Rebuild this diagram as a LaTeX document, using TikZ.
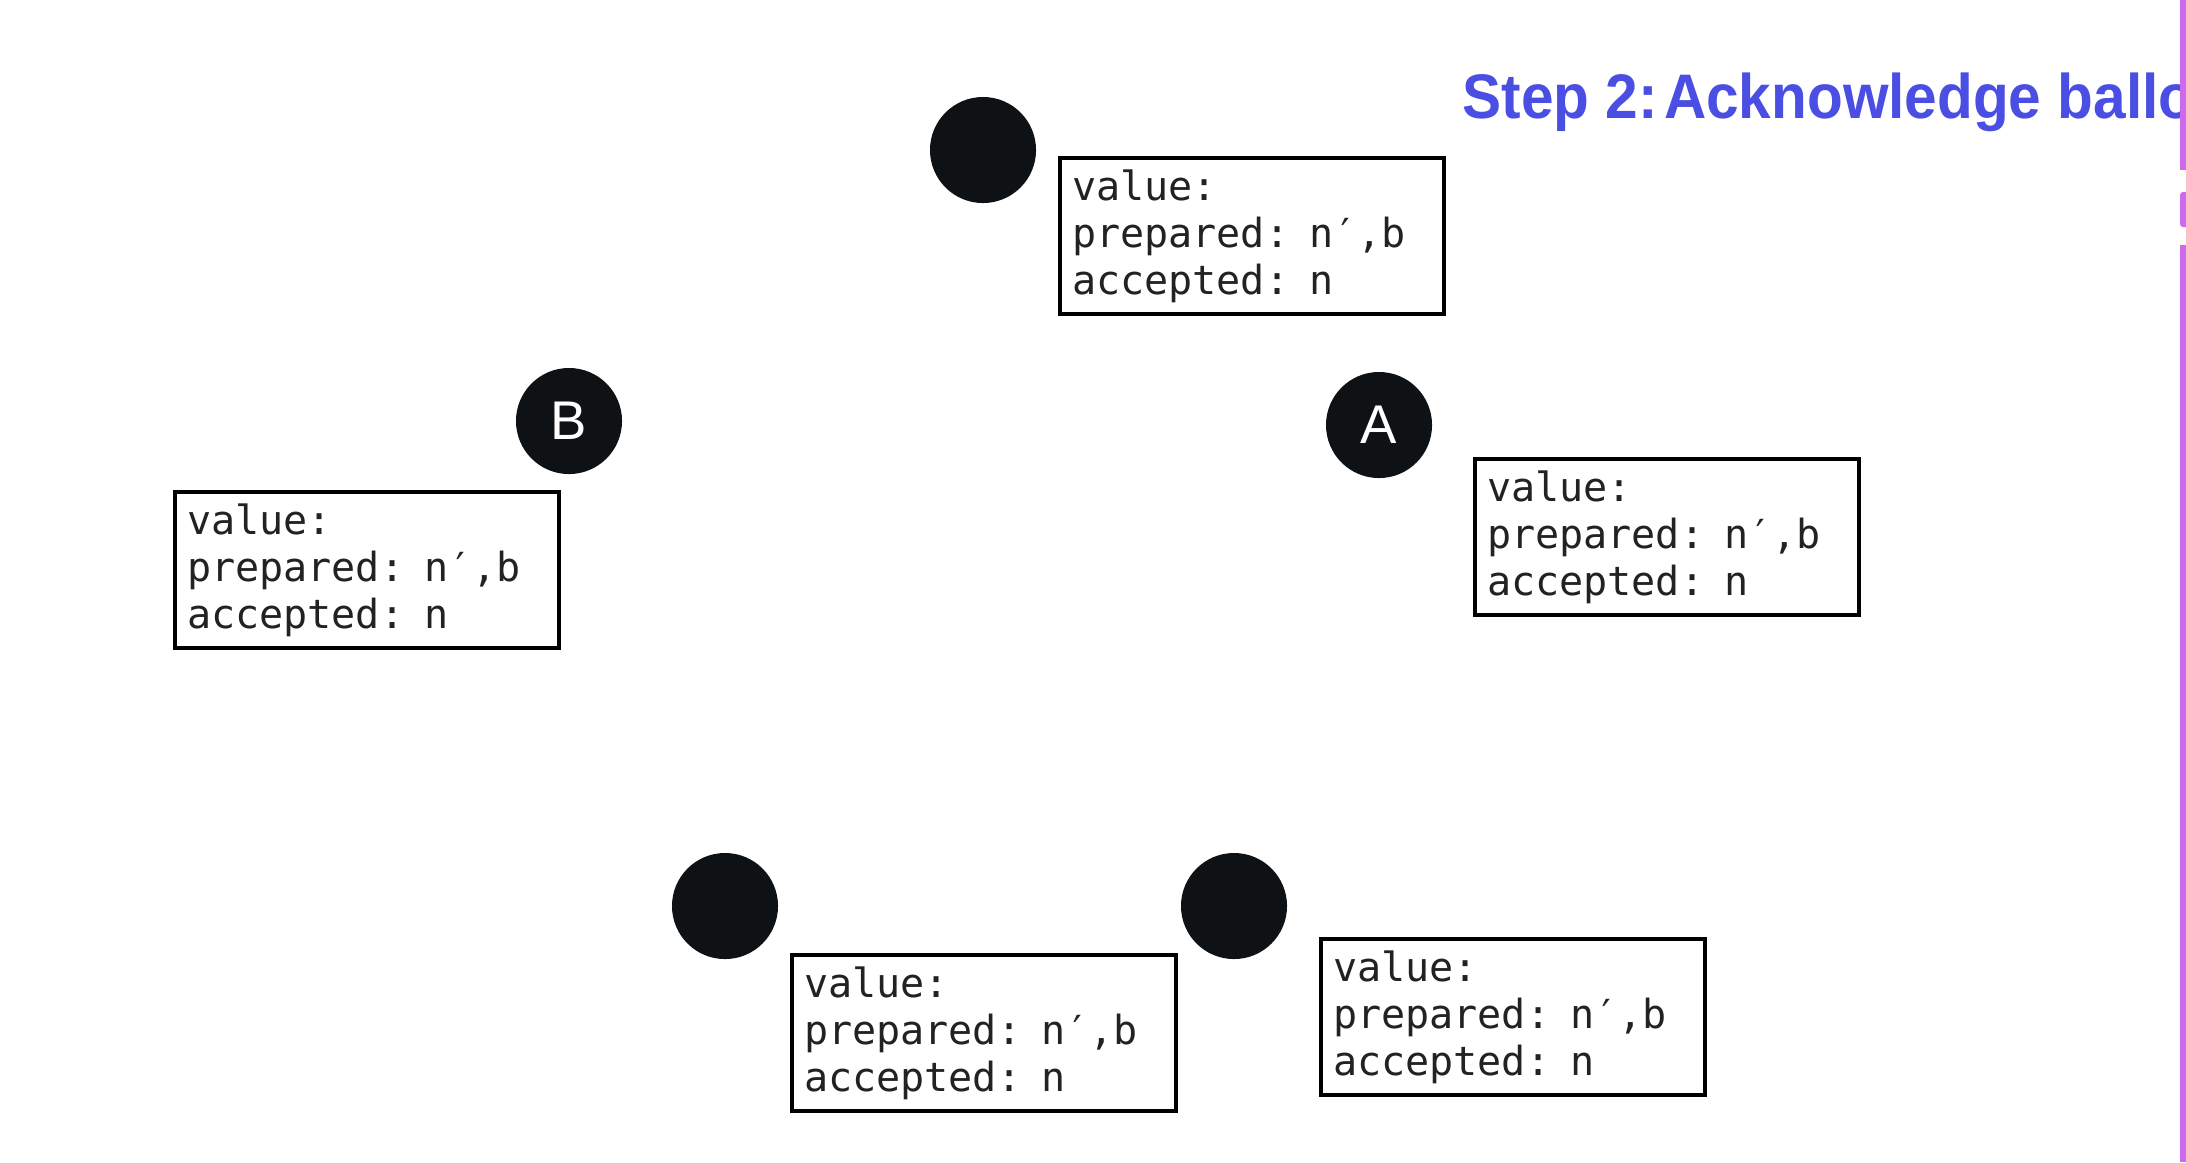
\documentclass[tikz,border=0pt]{standalone}
\usepackage{fontspec}
\newfontfamily\boxfont{DejaVu Sans Mono}
\newfontfamily\labfont{Liberation Sans}
\newfontfamily\titlefont{Liberation Sans}[FakeStretch=0.93]
\definecolor{titleblue}{RGB}{74,78,226}
\definecolor{barpurple}{RGB}{205,105,235}
\definecolor{dotblack}{RGB}{14,18,20}
\definecolor{boxtext}{RGB}{34,34,34}
\tikzset{
  statebox/.style={draw=black, line width=1.15pt, fill=white, anchor=north west,
    minimum width=3.84cm, minimum height=1.56cm, text width=3.6cm,
    inner xsep=0.12cm, inner ysep=0pt, align=left, text=boxtext,
    font=\boxfont\fontsize{11.4}{13.3}\selectfont},
  dot/.style={circle, fill=dotblack, minimum size=1.06cm, inner sep=0pt,
    text=white, font=\labfont\fontsize{15.5}{15.5}\selectfont},
  bar/.style={fill=barpurple, draw=none}
}
\begin{document}
\begin{tikzpicture}[x=0.01cm,y=-0.01cm]
\useasboundingbox (0,0) rectangle (2186,1162);
\fill[white] (0,0) rectangle (2186,1162);
% right edge bar
\fill[bar] (2180,0) rectangle (2186,170);
\fill[bar, rounded corners=0.03cm] (2180,192) rectangle (2190,227);
\fill[bar] (2180,245) rectangle (2186,1162);
% title
\begin{scope}
\clip (0,0) rectangle (2179,1162);
\node[anchor=base west, inner sep=0pt, text=titleblue,
  font=\titlefont\bfseries\fontsize{17.9}{20}\selectfont] (title) at (1462,118) {Step 2:\hspace{0.1em}Acknowledge ballo};
\end{scope}
% nodes
\node[dot] (ntop) at (983,150) {};
\node[dot] (nb) at (569,421) {B};
\node[dot] (na) at (1379,425) {A};
\node[dot] (nbl) at (725,906) {};
\node[dot] (nbr) at (1234,906) {};
% boxes
\node[statebox] (btop) at (1058,156) {value:\\prepared: n′,b\\accepted: n};
\node[statebox] (bb) at (173,490) {value:\\prepared: n′,b\\accepted: n};
\node[statebox] (ba) at (1473,457) {value:\\prepared: n′,b\\accepted: n};
\node[statebox] (bbl) at (790,953) {value:\\prepared: n′,b\\accepted: n};
\node[statebox] (bbr) at (1319,937) {value:\\prepared: n′,b\\accepted: n};
\end{tikzpicture}
\end{document}
